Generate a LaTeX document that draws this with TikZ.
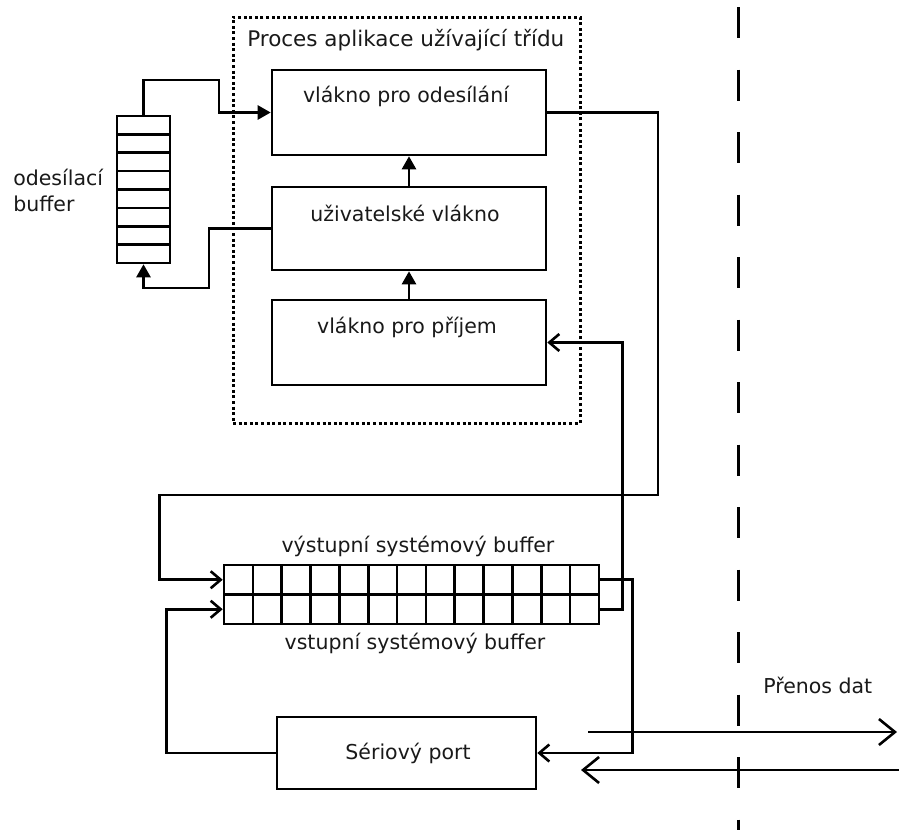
\documentclass[tikz,border=0pt]{standalone}
\usepackage{fontspec}
\setmainfont{DejaVu Sans}
\usetikzlibrary{arrows.meta}
\begin{document}
\begin{tikzpicture}[x=1pt,y=-1pt,line width=2.6pt,
  box/.style={draw,rectangle,inner sep=0pt},
  lbl/.style={inner sep=0pt,font=\fontsize{20.5}{26}\selectfont,text=black!90},
  fillarrow/.style={-{Triangle[length=13pt,width=14pt]}},
  openarrow/.style={-{Straight Barb[length=10pt,width=17pt,line width=2.6pt]}},
  bigarrow/.style={-{Straight Barb[length=16pt,width=26pt,line width=2.6pt]}}]
\useasboundingbox (0,0) rectangle (899,830);
% process frame
\node[draw,rectangle,inner sep=0pt,line width=3pt,dash pattern=on 3pt off 2.6pt,
  minimum width=347pt,minimum height=406pt] (proc) at (406.5,220) {};
\node[lbl,anchor=west,font=\fontsize{21.5}{26}\selectfont] (proct) at (246,40) {Proces aplikace užívající třídu};
% thread boxes
\node[box,minimum width=274pt,minimum height=85pt] (send) at (409,112.5) {};
\node[lbl] (sendt) at (406,96) {vlákno pro odesílání};
\node[box,minimum width=274pt,minimum height=83pt] (user) at (409,228.5) {};
\node[lbl] (usert) at (405,213) {uživatelské vlákno};
\node[box,minimum width=274pt,minimum height=85pt] (recv) at (409,342.5) {};
\node[lbl] (recvt) at (407,327) {vlákno pro příjem};
\draw[fillarrow] (user.north) -- (send.south);
\draw[fillarrow] (recv.north) -- (user.south);
% send buffer
\node[box,minimum width=53pt,minimum height=147pt] (sbuf) at (143.5,189.5) {};
\foreach \i in {1,...,7} \draw (117,116+\i*18.375) -- (170,116+\i*18.375);
\node[lbl,align=left,anchor=west] (sbuft) at (12,190) {odesílací\\buffer};
\draw[fillarrow] (sbuf.north) |- (219,80) |- (send.west);
\draw[fillarrow] (user.west) -| (209,288) -| (sbuf.south);
% system buffers
\node[box,minimum width=375pt,minimum height=29.5pt] (obuf) at (411.5,579.75) {};
\node[box,minimum width=375pt,minimum height=29.5pt] (ibuf) at (411.5,609.25) {};
\foreach \i in {1,...,12} \draw (224+\i*28.846,565) -- (224+\i*28.846,624);
\node[lbl] (obuft) at (418,546) {výstupní systémový buffer};
\node[lbl] (ibuft) at (415,643) {vstupní systémový buffer};
% serial port
\node[box,minimum width=259pt,minimum height=72pt] (port) at (406.5,753) {};
\node[lbl] (portt) at (408,753) {Sériový port};
% connectors
\draw[openarrow] (send.east) -| (658,495) -| ([xshift=-63pt]obuf.west) -- (obuf.west);
\draw[openarrow] (ibuf.east) -| ([xshift=75pt]recv.east) -- (recv.east);
\draw[openarrow] (obuf.east) -| ([xshift=95pt]port.east) -- (port.east);
\draw[openarrow] (port.west) -| ([xshift=-56pt]ibuf.west) -- (ibuf.west);
% data transfer
\draw[line width=3pt,dash pattern=on 31pt off 31.5pt] (738,7) -- (738,830);
\node[lbl,anchor=west] (dat) at (762,685) {Přenos dat};
\coordinate (o1) at (588,732);
\coordinate (o2) at (897,732);
\coordinate (i1) at (899,770);
\coordinate (i2) at (581,770);
\draw[bigarrow] (o1) -- (o2);
\draw[bigarrow] (i1) -- (i2);
\end{tikzpicture}
\end{document}
